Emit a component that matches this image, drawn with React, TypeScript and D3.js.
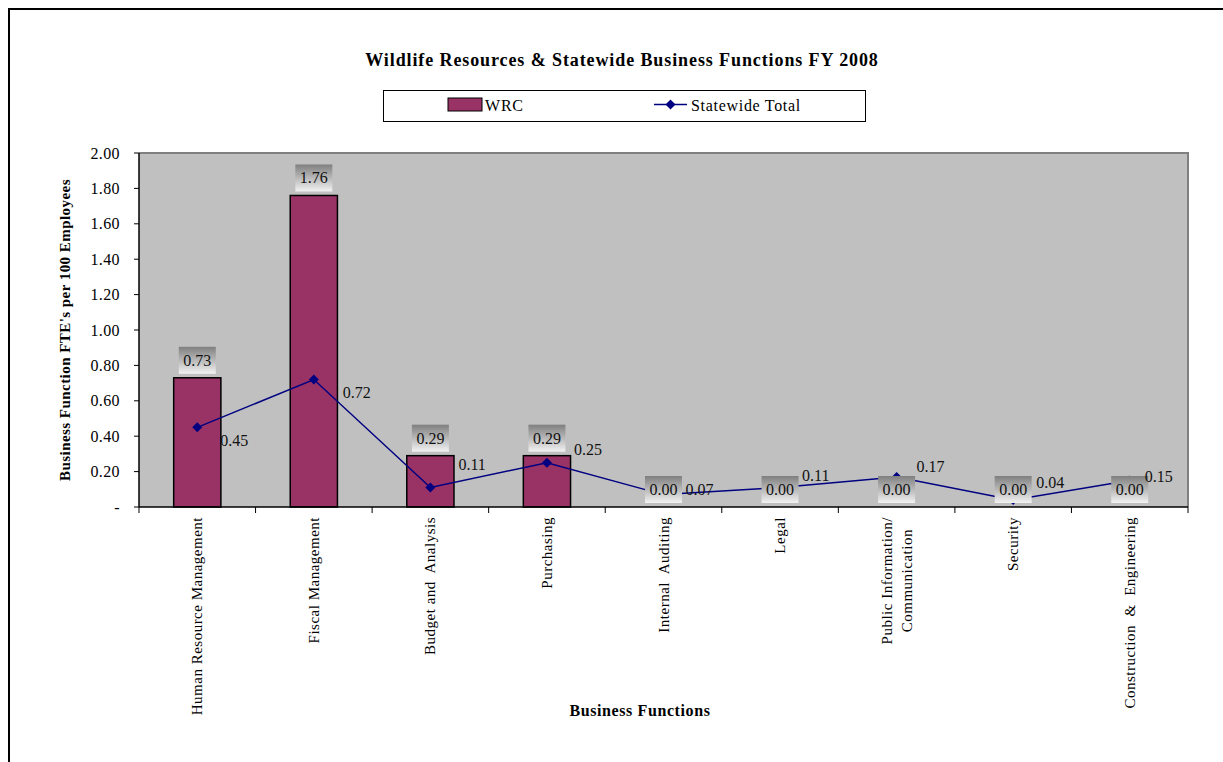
import React, { useEffect, useRef } from "react";
import * as d3 from "d3";

const categories = [
  "Human Resource Management",
  "Fiscal Management",
  "Budget and  Analysis",
  "Purchasing",
  "Internal  Auditing",
  "Legal",
  "Public Information/\nCommunication",
  "Security",
  "Construction  &  Engineering",
];
const wrcValues = [0.73, 1.76, 0.29, 0.29, 0, 0, 0, 0, 0];
const statewideValues = [0.45, 0.72, 0.11, 0.25, 0.07, 0.11, 0.17, 0.04, 0.15];
const yTicks = [0, 0.2, 0.4, 0.6, 0.8, 1.0, 1.2, 1.4, 1.6, 1.8, 2.0];

// hand placed label nudges for the line series (dx from point, dy from point)
const lineLabelNudge = [
  [23, 13], [29, 13], [28, -23], [27, -13], [22, -5], [22, -12], [20, -10], [23, -17], [15, -4],
];

const FONT = "'Liberation Serif', 'Times New Roman', serif";
const BAR = "#993366";
const LINE = "#000080";
const fmt = d3.format(".2f");

export default function App() {
  const svgRef = useRef<SVGSVGElement>(null);
  const left = 139, right = 1188, top = 153, bottom = 507;

  const x = d3.scaleBand<string>().domain(categories).range([left, right]);
  const y = d3.scaleLinear().domain([0, 2]).range([bottom, top]);
  const barW = x.bandwidth() * 0.405;
  const cx = (c: string) => (x(c) as number) + x.bandwidth() / 2;

  const line = d3
    .line<number>()
    .x((_, i) => cx(categories[i]))
    .y((d) => y(d));

  const diamond = "M0,-5L5,0L0,5L-5,0Z";

  // multi-line category labels: center the lines on the longest one
  useEffect(() => {
    if (!svgRef.current) return;
    d3.select(svgRef.current)
      .selectAll<SVGTextElement, unknown>("text.multi")
      .each(function () {
        const spans = d3.select(this).selectAll<SVGTSpanElement, unknown>("tspan");
        let maxLen = 0;
        spans.each(function () {
          maxLen = Math.max(maxLen, this.getComputedTextLength());
        });
        spans.attr("x", -maxLen / 2).attr("text-anchor", "middle");
      });
  }, []);

  return (
    <svg
      ref={svgRef}
      width={1223}
      height={762}
      style={{ position: "absolute", left: 0, top: 0, display: "block", background: "#fff" }}
      fontFamily={FONT}
    >
      <defs>
        <linearGradient id="lblGrad" x1="0" y1="0" x2="0" y2="1">
          <stop offset="0%" stopColor="#7f7f7f" />
          <stop offset="100%" stopColor="#f2f2f2" />
        </linearGradient>
      </defs>

      {/* outer chart frame */}
      <rect x={9} y={9} width={1240} height={780} fill="#fff" stroke="#000" strokeWidth={2} />

      <text x={622} y={66} textAnchor="middle" fontSize={18} fontWeight="bold" letterSpacing={0.9}>
        Wildlife Resources &amp; Statewide Business Functions FY 2008
      </text>

      {/* legend */}
      <g>
        <rect x={383.5} y={90.5} width={482} height={31} fill="#fff" stroke="#000" strokeWidth={1} />
        <rect x={448} y={98} width={34} height={13} fill={BAR} stroke="#000" strokeWidth={1} />
        <text x={485} y={111} fontSize={16} letterSpacing={0.8}>WRC</text>
        <line x1={654} x2={687} y1={104.5} y2={104.5} stroke={LINE} strokeWidth={1.5} />
        <path d={diamond} transform="translate(670.5,104.5)" fill={LINE} />
        <text x={691} y={111} fontSize={16} letterSpacing={0.7}>Statewide Total</text>
      </g>

      {/* plot area */}
      <rect x={left} y={top} width={right - left} height={bottom - top} fill="#c0c0c0" />
      <path
        d={`M${left},${top}H${right}V${bottom}`}
        fill="none"
        stroke="#808080"
        strokeWidth={2}
      />

      {/* bars */}
      {categories.map((c, i) => (
        <rect
          key={c}
          x={cx(c) - barW / 2}
          y={y(wrcValues[i])}
          width={barW}
          height={bottom - y(wrcValues[i])}
          fill={BAR}
          stroke="#000"
          strokeWidth={1.5}
        />
      ))}

      {/* statewide line */}
      <path d={line(statewideValues) as string} fill="none" stroke={LINE} strokeWidth={1.5} />
      {statewideValues.map((v, i) => (
        <path
          key={i}
          d={diamond}
          transform={`translate(${cx(categories[i])},${y(v)})`}
          fill={LINE}
        />
      ))}

      {/* axes */}
      <line x1={left} x2={left} y1={top} y2={bottom} stroke="#000" strokeWidth={1.5} />
      <line x1={left} x2={right} y1={bottom} y2={bottom} stroke="#000" strokeWidth={1.5} />
      {yTicks.map((t) => (
        <g key={t}>
          <line x1={left - 5} x2={left} y1={y(t)} y2={y(t)} stroke="#000" strokeWidth={1} />
          <text x={120} y={y(t) + 5.5} textAnchor="end" fontSize={16} letterSpacing={0.4}>
            {t === 0 ? "-" : fmt(t)}
          </text>
        </g>
      ))}
      {d3.range(categories.length + 1).map((i) => {
        const tx = left + i * x.step();
        return <line key={i} x1={tx} x2={tx} y1={bottom} y2={bottom + 6} stroke="#000" strokeWidth={1} />;
      })}

      {/* bar data labels */}
      {categories.map((c, i) => {
        const by = y(wrcValues[i]);
        return (
          <g key={c}>
            <rect x={cx(c) - 18.5} y={by - 31} width={37} height={27} fill="url(#lblGrad)" />
            <text x={cx(c)} y={by - 12} textAnchor="middle" fontSize={16} fill="#111">
              {fmt(wrcValues[i])}
            </text>
          </g>
        );
      })}

      {/* line data labels */}
      {statewideValues.map((v, i) => (
        <text
          key={i}
          x={cx(categories[i]) + lineLabelNudge[i][0]}
          y={y(v) + lineLabelNudge[i][1] + 5.5}
          fontSize={16}
          fill="#111"
        >
          {fmt(v)}
        </text>
      ))}

      {/* category labels */}
      {categories.map((c) => {
        const lines = c.split("\n");
        return (
          <text
            key={c}
            className={lines.length > 1 ? "multi" : undefined}
            transform={`translate(${cx(c)},517) rotate(-90)`}
            textAnchor="end"
            fontSize={15}
            letterSpacing={0.5}
            xmlSpace="preserve"
          >
            {lines.map((l, j) => (
              <tspan key={j} x={0} dy={j === 0 ? 5 - (lines.length - 1) * 10 : 20}>
                {l}
              </tspan>
            ))}
          </text>
        );
      })}

      <text x={640} y={716} textAnchor="middle" fontSize={16} fontWeight="bold" letterSpacing={0.6}>
        Business Functions
      </text>
      <text
        transform="translate(70,330) rotate(-90)"
        textAnchor="middle"
        fontSize={15}
        fontWeight="bold"
        letterSpacing={0.45}
      >
        Business Function FTE's per 100 Employees
      </text>
    </svg>
  );
}
